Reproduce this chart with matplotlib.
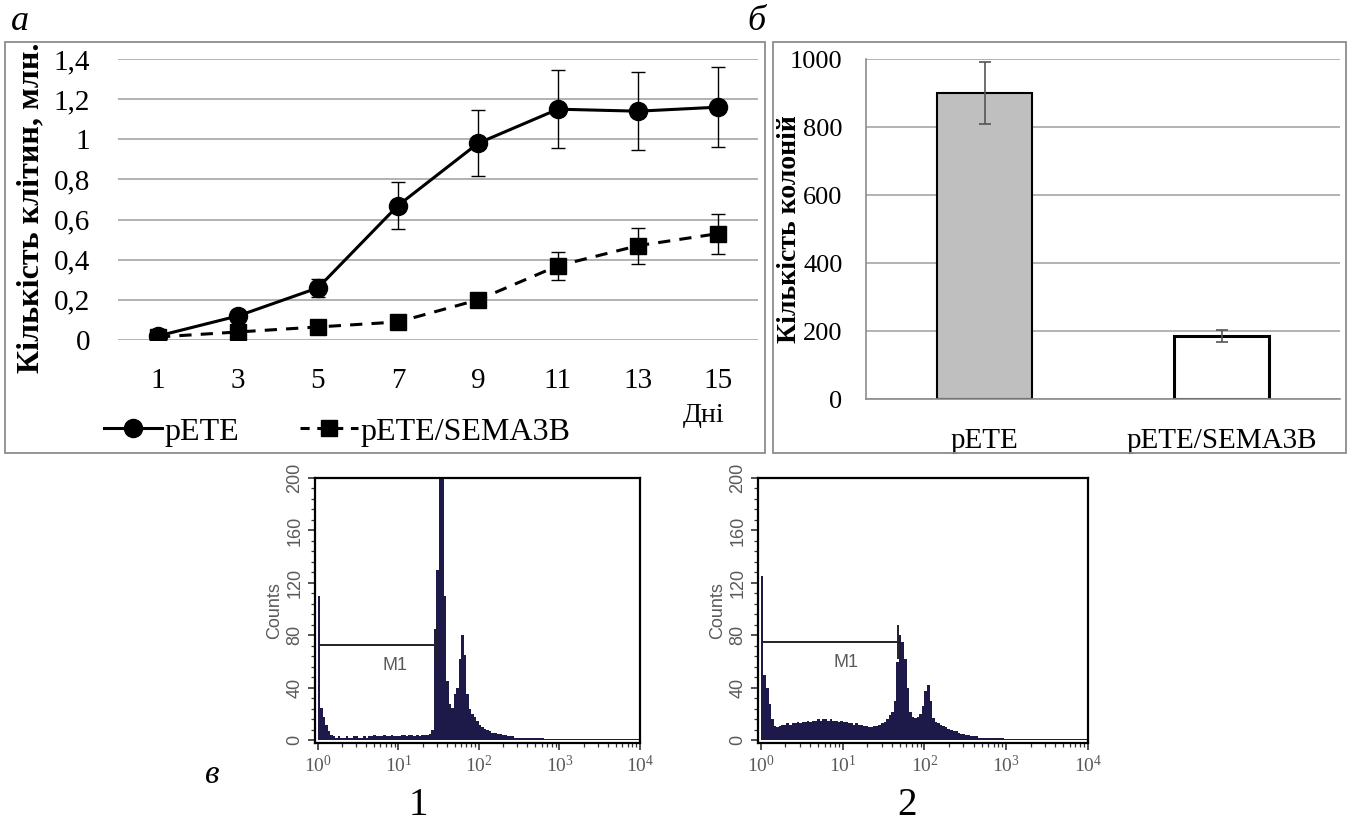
import matplotlib
matplotlib.use("Agg")
import matplotlib.pyplot as plt
import numpy as np
from matplotlib.font_manager import FontProperties
from matplotlib.lines import Line2D
from matplotlib.patches import Rectangle
from matplotlib.ticker import MultipleLocator, LogLocator, NullFormatter, FixedLocator

# panel a: cell growth (млн. клітин)
days = [1, 3, 5, 7, 9, 11, 13, 15]
pete_cells = [0.02, 0.12, 0.26, 0.67, 0.98, 1.15, 1.14, 1.16]
pete_err = [0.01, 0.01, 0.045, 0.115, 0.165, 0.195, 0.195, 0.2]
sema_cells = [0.015, 0.04, 0.065, 0.09, 0.2, 0.37, 0.47, 0.53]
sema_err = [0.005, 0.005, 0.005, 0.01, 0.015, 0.07, 0.09, 0.1]

# panel б: colonies
groups = ["pETE", "pETE/SEMA3B"]
colonies = [900, 185]
colonies_err = [90, 17]

# panel в: flow cytometry histograms, 32 bins per decade from 10^0 to 10^4
hist1 = [110, 25, 18, 12, 7, 4,
         3, 2, 3, 2, 2, 3, 2, 2, 3, 3, 2, 2, 3, 2, 3, 3, 4, 3, 3, 3,
         4, 3, 3, 4, 3, 3, 3, 4, 4, 3, 4, 4, 3, 4, 3, 4, 4, 4, 5,
         8, 85, 130, 215, 200, 110, 45, 28, 25, 35, 40, 62, 80, 65, 35, 24, 20, 18, 15,
         12, 10, 9, 8, 7, 6, 6, 5, 5, 4, 4, 3, 3, 3, 2, 2,
         2, 2, 2, 1.5, 2, 1.5, 1.5, 2, 1.5, 1.5, 1, 1, 1, 1, 1, 1,
         1, 1, 1, 1, 1, 1, 0.8, 0.8, 1, 0.8, 0.8, 0.8, 0.8, 0.8, 0.8, 0.8,
         0.8, 0.8, 0.8, 0.8, 0.8, 0.8, 0.8, 0.8, 0.8, 0.8, 0.8, 0.8, 0.8, 0.8, 0.8, 0.8]
hist2 = [125, 50, 40, 28, 16, 11, 10,
         11, 12, 12, 13, 12, 13, 13, 14, 13, 14, 14, 15, 14, 15, 15, 16, 15, 16, 16, 15,
         16, 15, 15, 14, 15, 14, 14, 13, 13, 12, 13, 12, 12, 11, 11, 10, 10, 11, 11, 12,
         13, 14, 16, 19, 22,
         30, 60, 80, 75, 62, 40, 22, 18, 17, 18, 20, 26, 38, 42, 30, 17, 14, 13, 12, 11,
         10, 9, 8, 7, 7, 6, 5, 5, 4, 4, 3, 3, 3, 2,
         2, 2, 2, 2, 1.5, 1.5, 1.5, 1.5, 1.5, 1.2,
         1, 1, 1, 1, 1, 1, 1, 1, 1, 1, 1, 1, 1, 1, 1, 1,
         1, 1, 1, 1, 1, 1, 1, 1, 1, 1, 1, 1, 1, 1, 1, 1]
hist_ticks = [0, 40, 80, 120, 160, 200]

W, H = 1351, 830
SERIF = "Liberation Serif"
SANS = "Liberation Sans"
GRID = "#a6a6a6"

plt.rcParams["font.family"] = [SERIF, "DejaVu Serif"]
plt.rcParams["mathtext.fontset"] = "custom"
plt.rcParams["mathtext.rm"] = SANS

fig = plt.figure(figsize=(W / 100, H / 100), dpi=100)
fig.patch.set_facecolor("white")


def px_axes(left, top, right, bottom):
    return fig.add_axes([left / W, 1 - bottom / H, (right - left) / W, (bottom - top) / H])


def frame(left, top, right, bottom):
    fig.add_artist(Rectangle((left / W, 1 - bottom / H), (right - left) / W, (bottom - top) / H,
                             transform=fig.transFigure, fill=False, ec="#8c8c8c", lw=1.3))


# ---------- panel a ----------
frame(5, 42, 765, 453)
ax = px_axes(118, 59, 758, 340)
ax.set_xlim(0, 16)
ax.set_ylim(0, 1.4)
ax.set_yticks(np.arange(0, 1.41, 0.2))
ax.set_yticklabels(["0", "0,2", "0,4", "0,6", "0,8", "1", "1,2", "1,4"])
ax.set_xticks(days)
ax.set_xticklabels([str(d) for d in days])
ax.grid(axis="y", color=GRID, lw=1.2)
ax.set_axisbelow(True)
for s in ax.spines.values():
    s.set_visible(False)
ax.tick_params(length=0, labelsize=21, pad=20)
ax.tick_params(axis="x", pad=20)

ax.errorbar(days, pete_cells, yerr=pete_err, color="black", lw=2.2, marker="o", ms=13,
            ecolor="black", elinewidth=1, capsize=5, capthick=1, zorder=3)
ax.errorbar(days, sema_cells, yerr=sema_err, color="black", lw=2.2, ls=(0, (4, 3)), marker="s",
            ms=12, ecolor="black", elinewidth=1, capsize=5, capthick=1, zorder=3)

fig.text(31 / W, 1 - 208 / H, "Кількість клітин, млн.", rotation=90, ha="center", va="center",
         fontsize=23, fontweight="bold")
fig.text(704 / W, 1 - 415 / H, "Дні", ha="center", va="center", fontsize=20)

handles = [Line2D([], [], color="black", lw=2.2, marker="o", ms=13),
           Line2D([], [], color="black", lw=2.2, ls=(0, (3, 2.5)), marker="s", ms=12)]
fig.legend(handles, ["pETE", "pETE/SEMA3B"], loc="center left",
           bbox_to_anchor=(104 / W, 1 - 432 / H), ncol=2, frameon=False,
           borderpad=0, borderaxespad=0,
           handlelength=1.8, handletextpad=0.1, columnspacing=1.9,
           prop=FontProperties(family=SERIF, size=23))

fig.text(20 / W, 1 - 21 / H, "а", ha="center", va="center", fontsize=26, style="italic")
fig.text(756 / W, 1 - 21 / H, "б", ha="center", va="center", fontsize=26, style="italic")

# ---------- panel б ----------
frame(773, 42, 1346, 453)
bx = px_axes(866, 59, 1340, 399)
x = np.arange(len(groups))
bx.bar(x, colonies, width=0.4, color=["#bfbfbf", "white"], edgecolor="black", lw=[1.5, 2.2], zorder=2)
bx.errorbar(x, colonies, yerr=colonies_err, fmt="none", ecolor="#555555", elinewidth=1.2,
            capsize=4, capthick=1.2, zorder=3)
bx.set_xlim(-0.5, 1.5)
bx.set_ylim(0, 1000)
bx.set_yticks(range(0, 1001, 200))
bx.set_xticks(x)
bx.set_xticklabels(groups)
bx.grid(axis="y", color=GRID, lw=1.2)
bx.set_axisbelow(True)
for side in ["top", "right"]:
    bx.spines[side].set_visible(False)
for side in ["left", "bottom"]:
    bx.spines[side].set_color("#8c8c8c")
    bx.spines[side].set_linewidth(1.2)
bx.tick_params(length=0, labelsize=19, pad=17)
bx.tick_params(axis="x", labelsize=21, pad=21)
fig.text(789 / W, 1 - 229 / H, "Кількість колоній", rotation=90, ha="center", va="center",
         fontsize=20, fontweight="bold")

# ---------- panel в ----------
edges = 10 ** (np.arange(len(hist1) + 1) / 32)
hist_specs = [(hist1, (315, 478, 640, 743), 30, 9, 73, 418, "1"),
              (hist2, (758, 478, 1088, 743), 48, 11, 75, 907, "2")]
for counts, box, m_end, m_txt, m_y, num_x, num in hist_specs:
    hx = px_axes(*box)
    hx.stairs(counts, edges, fill=True, color="#1d1a4a", zorder=2)
    hx.set_xscale("log")
    hx.set_xlim(10 ** -0.035, 10 ** 4)
    hx.set_ylim(-2, 200)
    hx.yaxis.set_major_locator(FixedLocator(hist_ticks))
    hx.yaxis.set_minor_locator(MultipleLocator(8))
    hx.xaxis.set_major_locator(LogLocator(base=10, numticks=10))
    hx.xaxis.set_minor_locator(LogLocator(base=10, subs=np.arange(2, 10), numticks=10))
    hx.xaxis.set_minor_formatter(NullFormatter())
    for s in hx.spines.values():
        s.set_linewidth(1.6)
    hx.tick_params(direction="out", length=5, width=1.2, colors="#333333", labelcolor="#5a5a5a",
                   labelsize=14)
    hx.tick_params(which="minor", direction="out", length=3, width=0.9, colors="#333333")
    for lab in hx.get_yticklabels():
        lab.set_rotation(90)
        lab.set_va("center")
        lab.set_family(SANS)
        lab.set_fontsize(13)
    hx.set_ylabel("Counts", color="#5a5a5a", fontsize=13, family=SANS, labelpad=2)
    # M1 marker
    hx.plot([1.07, m_end], [m_y, m_y], color="#222222", lw=1.4, zorder=3)
    hx.plot([m_end, m_end], [m_y - 12, m_y + 12], color="#222222", lw=1.4, zorder=3)
    hx.text(m_txt, m_y - 16, "M1", color="#5a5a5a", fontsize=13, ha="center", va="center",
            family=SANS)
    fig.text(num_x / W, 1 - 805 / H, num, ha="center", va="center", fontsize=28)

fig.text(212 / W, 1 - 775 / H, "в", ha="center", va="center", fontsize=24, style="italic")

fig.savefig("out.png", dpi=100, facecolor="white")
